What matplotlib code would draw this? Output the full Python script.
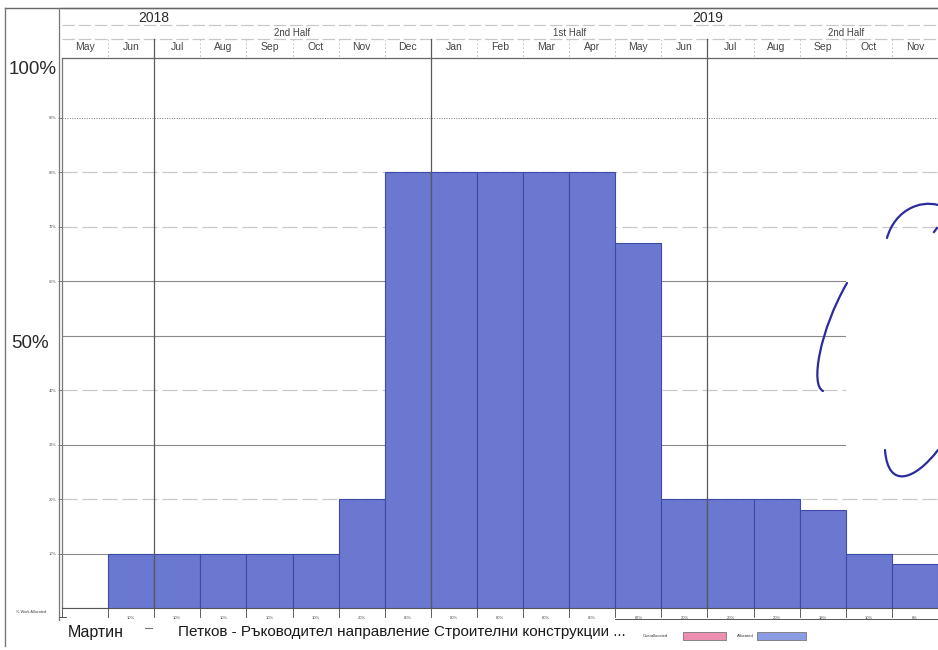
import matplotlib
matplotlib.use("Agg")
import matplotlib.pyplot as plt
from matplotlib.patches import Rectangle
from matplotlib.path import Path
from matplotlib.patches import PathPatch

plt.rcParams['font.family'] = ['Liberation Sans', 'DejaVu Sans']

# ---------------- data ----------------
months = ["May", "Jun", "Jul", "Aug", "Sep", "Oct", "Nov", "Dec",
          "Jan", "Feb", "Mar", "Apr", "May", "Jun", "Jul", "Aug", "Sep", "Oct", "Nov"]
allocated = [0, 10, 10, 10, 10, 10, 20, 80, 80, 80, 80, 80, 67, 20, 20, 20, 18, 10, 8]
years = ["2018", "2019"]
year_start = [-4, 8]          # month index where each year begins
halves = ["2nd Half", "1st Half", "2nd Half"]
half_start = [2, 8, 14]
grid_levels = [10, 20, 30, 40, 50, 60, 70, 80, 90]
small_tick_levels = [10, 20, 30, 40, 60, 70, 80, 90]
resource_first = "Мартин"
resource_rest = "Петков - Ръководител направление Строителни конструкции ..."
legend_labels = ["Overallocated", "Allocated"]

W, H = 938, 650
fig = plt.figure(figsize=(W / 100, H / 100), dpi=100)
fig.patch.set_facecolor("white")


def frac(x0, y0, x1, y1):
    return [x0 / W, 1 - y1 / H, (x1 - x0) / W, (y1 - y0) / H]


bar_color = "#6a78d0"
edge_color = "#3f4aa8"
grid_dark = "#8a8a8a"
grid_light = "#c8c8c8"

# ---------------- main histogram ----------------
ax = fig.add_axes(frac(62, 58, 938, 608))
n = len(months)
ax.set_xlim(0, n)
ax.set_ylim(0, 101)
xs = [i + 0.5 for i in range(n)]
ax.bar(xs, allocated, width=1.0, color=bar_color, edgecolor=edge_color,
       linewidth=0.8, zorder=3)

for t in grid_levels:
    if t == 90:
        ax.axhline(t, color="#777777", lw=0.7, ls=(0, (1, 1.5)), zorder=1)
    elif t in (70, 40, 20, 80):
        ax.axhline(t, color=grid_light, lw=0.9, ls=(0, (12, 4)), zorder=1)
    else:
        ax.axhline(t, color=grid_dark, lw=0.8, zorder=1)
for hs in half_start:
    ax.axvline(hs, color="#5a5a5a", lw=0.9, zorder=4)

ax.set_xticks([])
ax.set_yticks(small_tick_levels)
ax.set_yticklabels([f"{t}%" for t in small_tick_levels], fontsize=2.8, color="#555555")
ax.tick_params(axis="y", length=3, width=0.6, color="#666666", pad=1)
for s in ["top", "right"]:
    ax.spines[s].set_visible(False)
ax.spines["left"].set_color("#777777")
ax.spines["left"].set_linewidth(0.9)
ax.spines["bottom"].set_color("#555555")
ax.spines["bottom"].set_linewidth(0.8)

# value row under bars
for i, v in enumerate(allocated):
    if v > 0:
        ax.text(i + 0.5, -1.8, f"{v}%", ha="center", va="center",
                fontsize=3, color="#444444", clip_on=False)
    ax.plot([i, i], [0, -1.6], color="#444444", lw=0.6, clip_on=False)

# ---------------- header timescale ----------------
hx = fig.add_axes(frac(62, 8, 938, 58))
hx.set_xlim(0, n)
hx.set_ylim(50, 0)
hx.axis("off")
for yy, col, st in [(0, "#666666", "-"), (17, grid_light, (0, (10, 3))),
                    (31, grid_light, (0, (10, 3))), (49.5, "#666666", "-")]:
    hx.plot([0, n], [yy, yy], color=col, lw=0.9, ls=st, clip_on=False)
for lab, st in zip(years, year_start):
    hx.text(st + 6, 9.5, lab, ha="center", va="center", fontsize=10, color="#2a2a2a")
for lab, st in zip(halves, half_start):
    hx.text(st + 3, 25, lab, ha="center", va="center", fontsize=7, color="#444444")
for i, m in enumerate(months):
    hx.text(i + 0.5, 39.5, m, ha="center", va="center", fontsize=7.5, color="#444444")
    if i > 0 and i not in half_start:
        hx.plot([i, i], [31, 49.5], color=grid_light, lw=0.7, ls=(0, (2, 2)))
for hs in half_start:
    hx.plot([hs, hs], [31, 50], color="#5a5a5a", lw=0.9)

# ---------------- overlay: frame, labels, legend ----------------
ov = fig.add_axes([0, 0, 1, 1], zorder=10)
ov.set_xlim(0, W)
ov.set_ylim(H, 0)
ov.axis("off")
ov.patch.set_alpha(0)

# frame lines
ov.plot([5, 938], [8, 8], color="#666666", lw=1.0)
ov.plot([5, 5], [8, 646], color="#777777", lw=1.0)
ov.plot([59, 59], [8, 620], color="#777777", lw=0.9)
ov.plot([59, 66], [617, 617], color="#555555", lw=0.7)
ov.plot([615, 938], [619, 619], color="#555555", lw=0.7)

ov.text(33, 70, "100%", ha="center", va="center", fontsize=13.5, color="#2a2a2a")
ov.text(30, 343, "50%", ha="center", va="center", fontsize=13.5, color="#2a2a2a")
ov.text(31, 612, "% Work Allocated", ha="center", va="center", fontsize=2.8, color="#444444")

ov.text(68, 632, resource_first, ha="left", va="center", fontsize=11.5, color="#1a1a1a")
ov.text(178, 632, resource_rest, ha="left", va="center", fontsize=11, color="#1a1a1a")
ov.plot([145, 152], [628, 628], color="#777777", lw=0.8)

# legend
ov.text(643, 636, legend_labels[0], ha="left", va="center", fontsize=3, color="#333333")
ov.add_patch(Rectangle((683, 632), 43, 8, facecolor="#ec8fb0", edgecolor="#777777", lw=0.6))
ov.text(737, 636, legend_labels[1], ha="left", va="center", fontsize=3, color="#333333")
ov.add_patch(Rectangle((757, 632), 49, 8, facecolor="#8a9ce2", edgecolor="#777777", lw=0.6))

# redaction patch and handwritten signature (scan artefacts)
ov.add_patch(Rectangle((846, 238), 92, 246, facecolor="white", edgecolor="none"))
sig = "#2b2ba0"
curves = [
    [(847, 283), (820, 330), (810, 385), (823, 391)],
    [(887, 238), (895, 210), (920, 200), (938, 205)],
    [(885, 450), (888, 490), (915, 480), (938, 450)],
]
for pts in curves:
    codes = [Path.MOVETO, Path.CURVE4, Path.CURVE4, Path.CURVE4]
    ov.add_patch(PathPatch(Path(pts, codes), facecolor="none",
                           edgecolor=sig, lw=1.6, capstyle="round"))
ov.plot([934, 937], [232, 228], color=sig, lw=1.6)

fig.savefig("out.png", dpi=100, facecolor="white")
